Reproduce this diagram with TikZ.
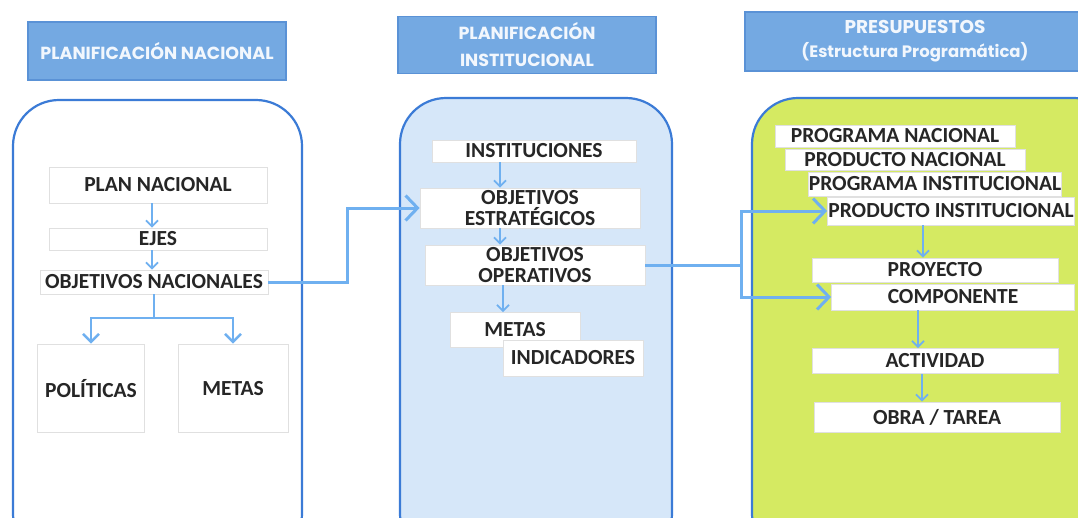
\documentclass[tikz,border=0pt]{standalone}
\usepackage{fontspec}
\setmainfont{Carlito}
\newfontfamily\hdrfont{Poppins}
\usetikzlibrary{arrows.meta}
\definecolor{hdrfill}{HTML}{74A9E2}
\definecolor{hdrdraw}{HTML}{5A92D6}
\definecolor{panelblue}{HTML}{3B7BD6}
\definecolor{lightpanel}{HTML}{D6E7F9}
\definecolor{greenpanel}{HTML}{D5EA62}
\definecolor{arrblue}{HTML}{6FB0F0}
\definecolor{hdrtext}{HTML}{F2F7FD}
\begin{document}
\begin{tikzpicture}[x=1pt,y=-1pt,
 hdr/.style={fill=hdrfill, draw=hdrdraw, line width=1.2pt, text=hdrtext, font=\hdrfont\bfseries\fontsize{17.5}{27}\selectfont, align=center, inner sep=0pt},
 panel/.style={draw=panelblue, line width=2.2pt, rounded corners=46pt},
 wbox/.style={fill=white, draw=black!12, line width=0.8pt, inner sep=0pt, font=\bfseries\fontsize{21.5}{21}\selectfont, text=black!85, align=center},
 wb/.style n args={2}{wbox, minimum width=#1, minimum height=#2},
 bigarr/.style={draw=arrblue, line width=3pt, -{Straight Barb[length=12pt,width=25pt,line width=3pt]}},
 bigline/.style={draw=arrblue, line width=3pt},
 smallarr/.style={draw=arrblue, line width=1.8pt, -{Straight Barb[length=6pt,width=12pt,line width=1.8pt]}},
 midarr/.style={draw=arrblue, line width=2.4pt, -{Straight Barb[length=8pt,width=16pt,line width=2.4pt]}},
]
\useasboundingbox (0,0) rectangle (1078,517);
\clip (0,0) rectangle (1078,517);

% headers
\node[hdr, minimum width=258pt, minimum height=58pt] (h1) at (157,51) {PLANIFICACIÓN NACIONAL};
\node[hdr, minimum width=258pt, minimum height=57pt] (h2) at (527,45) {PLANIFICACIÓN\\INSTITUCIONAL};
\node[hdr, minimum width=340pt, minimum height=59pt, font=\hdrfont\bfseries\fontsize{16.5}{24}\selectfont] (h3) at (915,41.5) {{\fontsize{18.5}{24}\selectfont PRESUPUESTOS}\\(Estructura Programática)};

% panels
\draw[panel, fill=white] (13,100) rectangle (302,560);
\draw[panel, fill=lightpanel] (400,98) rectangle (672,560);
\draw[panel, fill=greenpanel] (752,98) rectangle (1120,560);

% panel 1
\node[wb={218pt}{36pt}] (pn) at (158,185) {PLAN NACIONAL};
\node[wb={218pt}{22pt}] (ejes) at (158,239) {EJES};
\node[wb={228pt}{24pt}] (objn) at (154,282) {OBJETIVOS NACIONALES};
\node[wb={107pt}{88pt}, text depth=-14pt] (pol) at (91,388) {POLÍTICAS};
\node[wb={110pt}{88pt}, text depth=-14pt] (met) at (233,388) {METAS};
\draw[smallarr] ([xshift=-6pt]pn.south) -- ([xshift=-6pt]ejes.north);
\draw[smallarr] ([xshift=-6pt]ejes.south) -- ([xshift=-2pt]objn.north);
\coordinate (split) at (154,318);
\draw[bigline, line width=2.4pt] (objn.south) -- (split);
\draw[midarr] (split) -| (pol.north);
\draw[midarr] (split) -| (met.north);

% panel 2
\node[wb={204pt}{22pt}] (inst) at (534,151) {INSTITUCIONES};
\node[wb={220pt}{40pt}] (oe) at (530,208) {OBJETIVOS\\ESTRATÉGICOS};
\node[wb={220pt}{40pt}] (oo) at (535,265) {OBJETIVOS\\OPERATIVOS};
\node[wb={130pt}{35pt}] (metas2) at (515,330) {METAS};
\node[wb={140pt}{36pt}] (ind) at (573,358) {INDICADORES};
\draw[smallarr] ([xshift=-34pt]inst.south) -- ([xshift=-30pt]oe.north);
\draw[smallarr] ([xshift=-30pt]oe.south) -- ([xshift=-35pt]oo.north);
\draw[smallarr] ([xshift=-32pt]oo.south) -- ([xshift=-12pt]metas2.north);

% panel 3
\node[wb={240pt}{22pt}] (pgn) at (895,136) {PROGRAMA NACIONAL};
\node[wb={240pt}{21pt}] (pdn) at (905,160) {PRODUCTO NACIONAL};
\node[wb={246pt}{24pt}] (pgi) at (935,184) {PROGRAMA INSTITUCIONAL};
\node[wb={247pt}{28pt}] (pdi) at (951,211) {PRODUCTO INSTITUCIONAL};
\node[wb={246pt}{24pt}] (proy) at (935,270) {PROYECTO};
\node[wb={243pt}{26pt}] (comp) at (953,297) {COMPONENTE};
\node[wb={246pt}{25pt}] (act) at (935,361) {ACTIVIDAD};
\node[wb={246pt}{30pt}] (obra) at (937,417) {OBRA / TAREA};
\draw[smallarr] ([xshift=-28pt]pdi.south) -- ([xshift=-12pt]proy.north);
\draw[smallarr] ([xshift=-35pt]comp.south) -- ([xshift=-17pt]act.north);
\draw[smallarr] ([xshift=-13pt]act.south) -- ([xshift=-15pt]obra.north);

% main connectors
\draw[bigarr] (objn.east) -- ++(79,0) |- (oe.west);
\coordinate (br) at (741,265);
\draw[bigline] (oo.east) -- (br);
\draw[bigarr] (br) |- (pdi.west);
\draw[bigarr] (br) |- (comp.west);
\end{tikzpicture}
\end{document}
